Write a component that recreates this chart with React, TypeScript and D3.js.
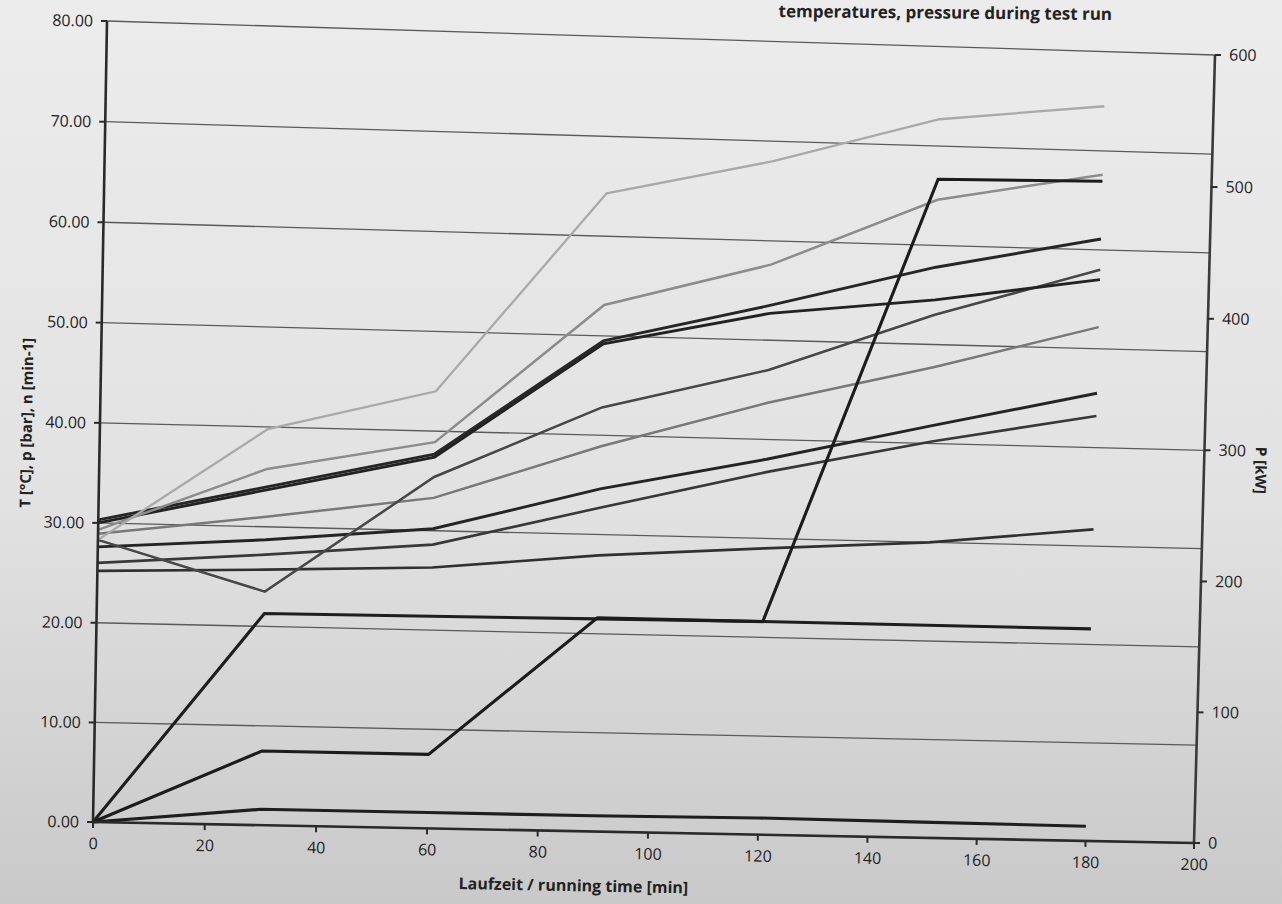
import React from "react";
import * as d3 from "d3";

// ---- data ----
const times = [0, 30, 60, 90, 120, 150, 180];
const seriesA = [28.3, 39.8, 44.0, 64.3, 68.0, 72.7, 74.5];
const seriesB = [29.3, 35.8, 38.9, 53.1, 57.6, 64.6, 67.6];
const seriesC = [30.3, 34.0, 37.7, 49.5, 53.5, 57.8, 61.1];
const seriesD = [28.3, 23.5, 35.4, 42.8, 47.0, 53.0, 58.0];
const seriesE = [30.0, 33.7, 37.4, 49.2, 52.7, 54.5, 57.0];
const seriesF = [28.9, 31.0, 33.3, 38.9, 43.7, 47.7, 52.2];
const seriesG = [27.6, 28.7, 30.2, 34.6, 38.0, 41.8, 45.5];
const seriesH = [26.0, 27.2, 28.6, 32.7, 36.7, 40.2, 43.2];
const seriesI = [25.2, 25.7, 26.3, 27.9, 29.0, 30.0, 31.7];
const pressure1 = [0, 21.3, 21.4, 21.5, 21.6, 21.6, 21.6];
const pressure2 = [0, 1.6, 1.6, 1.6, 1.7, 1.6, 1.5];
const powerKW = [0, 56, 56, 162, 162, 500, 502];

const leftTicks = [0, 10, 20, 30, 40, 50, 60, 70, 80];
const rightTicks = [0, 100, 200, 300, 400, 500, 600];
const xTicks = [0, 20, 40, 60, 80, 100, 120, 140, 160, 180, 200];

const titleText = "temperatures, pressure during test run";
const yTitleLeft = "T [°C], p [bar], n [min-1]";
const yTitleRight = "P [kW]";
const xTitle = "Laufzeit / running time [min]";

const leftSeries = [
  { values: seriesI, color: "#303030", width: 2.7 },
  { values: seriesH, color: "#383838", width: 2.7 },
  { values: seriesG, color: "#242424", width: 2.9 },
  { values: seriesF, color: "#787878", width: 2.5 },
  { values: seriesD, color: "#474747", width: 2.5 },
  { values: seriesE, color: "#222222", width: 2.9 },
  { values: seriesC, color: "#262626", width: 2.9 },
  { values: seriesB, color: "#8c8c8c", width: 2.5 },
  { values: seriesA, color: "#a9a9a9", width: 2.3 },
  { values: pressure1, color: "#1e1e1e", width: 3.1 },
  { values: pressure2, color: "#1e1e1e", width: 3.1 },
];

const W = 1282;
const H = 904;
const FONT = "'Open Sans', 'Liberation Sans', sans-serif";

// plot corners as photographed (bottom-left, bottom-right, top-right, top-left)
const corners = [
  [93, 822],
  [1194, 843],
  [1215, 55],
  [107, 21],
];

function makeProjection(c: number[][]) {
  const [x0, y0] = c[0];
  const [x1, y1] = c[1];
  const [x2, y2] = c[2];
  const [x3, y3] = c[3];
  const dx1 = x1 - x2, dx2 = x3 - x2, dx3 = x0 - x1 + x2 - x3;
  const dy1 = y1 - y2, dy2 = y3 - y2, dy3 = y0 - y1 + y2 - y3;
  const den = dx1 * dy2 - dx2 * dy1;
  const g = (dx3 * dy2 - dx2 * dy3) / den;
  const h = (dx1 * dy3 - dx3 * dy1) / den;
  const a = x1 - x0 + g * x1, b = x3 - x0 + h * x3, cc = x0;
  const d = y1 - y0 + g * y1, e = y3 - y0 + h * y3, f = y0;
  return (u: number, v: number): [number, number] => {
    const w = g * u + h * v + 1;
    return [(a * u + b * v + cc) / w, (d * u + e * v + f) / w];
  };
}

const project = makeProjection(corners);
const ANG = 1.1;

export default function App() {
  const xs = d3.scaleLinear().domain([0, 200]).range([0, 1]);
  const yL = d3.scaleLinear().domain([0, 80]).range([0, 1]);
  const yR = d3.scaleLinear().domain([0, 600]).range([0, 1]);

  const lineL = d3
    .line<number>()
    .x((dv, i) => project(xs(times[i]), yL(dv))[0])
    .y((dv, i) => project(xs(times[i]), yL(dv))[1]);
  const lineR = d3
    .line<number>()
    .x((dv, i) => project(xs(times[i]), yR(dv))[0])
    .y((dv, i) => project(xs(times[i]), yR(dv))[1]);

  const seg = (p: [number, number], q: [number, number]) =>
    `M${p[0]},${p[1]}L${q[0]},${q[1]}`;

  const txt = (
    key: string,
    p: [number, number],
    dx: number,
    dy: number,
    content: string | number,
    anchor: string,
    extra: any = {}
  ) => {
    const px = p[0] + dx;
    const py = p[1] + dy;
    return (
      <text
        key={key}
        x={px}
        y={py}
        transform={`rotate(${ANG}, ${px}, ${py})`}
        textAnchor={anchor}
        fontFamily={FONT}
        fontSize={16}
        fill="#222"
        {...extra}
      >
        {content}
      </text>
    );
  };

  const mid = (yL(0) + yL(80)) / 2;
  const lTitleP = project(0, mid);
  const rTitleP = project(1, mid);
  const xTitleP = project(xs(87), 0);

  return (
    <div style={{ position: "fixed", left: 0, top: 0, width: W, height: H }}>
      <svg width={W} height={H} style={{ display: "block" }}>
        <defs>
          <linearGradient id="bg" x1="0" y1="0" x2="0" y2="1">
            <stop offset="0" stopColor="#ececec" />
            <stop offset="0.55" stopColor="#e2e2e2" />
            <stop offset="1" stopColor="#c9c9c9" />
          </linearGradient>
        </defs>
        <rect x={0} y={0} width={W} height={H} fill="url(#bg)" />

        {/* title */}
        <text
          x={1112}
          y={20}
          transform={`rotate(0.5, 1112, 20)`}
          textAnchor="end"
          fontFamily={FONT}
          fontWeight={700}
          fontSize={17}
          fill="#222"
        >
          {titleText}
        </text>

        {/* gridlines */}
        {leftTicks.map((t) => (
          <path
            key={"g" + t}
            d={seg(project(0, yL(t)), project(1, yL(t)))}
            stroke="#5a5a5a"
            strokeWidth={1.3}
          />
        ))}

        {/* series */}
        {leftSeries.map((s, i) => (
          <path
            key={"s" + i}
            d={lineL(s.values) || ""}
            fill="none"
            stroke={s.color}
            strokeWidth={s.width}
          />
        ))}
        <path d={lineR(powerKW) || ""} fill="none" stroke="#1c1c1c" strokeWidth={3.1} />

        {/* axes */}
        <path d={seg(project(0, 0), project(0, 1))} stroke="#2a2a2a" strokeWidth={2.6} />
        <path d={seg(project(1, 0), project(1, 1))} stroke="#3a3a3a" strokeWidth={2.6} />
        <path d={seg(project(0, 0), project(1, 0))} stroke="#2a2a2a" strokeWidth={2.6} />

        {leftTicks.map((t) => {
          const p = project(0, yL(t));
          return (
            <g key={"lt" + t}>
              <path d={seg([p[0] - 6, p[1]], p)} stroke="#2a2a2a" strokeWidth={2} />
              {txt("ltt" + t, p, -14, 5.5, d3.format(".2f")(t), "end")}
            </g>
          );
        })}
        {rightTicks.map((t) => {
          const p = project(1, yR(t));
          return (
            <g key={"rt" + t}>
              <path d={seg(p, [p[0] + 6, p[1]])} stroke="#2a2a2a" strokeWidth={2} />
              {txt("rtt" + t, p, 14, 5.5, t, "start")}
            </g>
          );
        })}
        {xTicks.map((t) => {
          const p = project(xs(t), 0);
          return (
            <g key={"xt" + t}>
              <path d={seg(p, [p[0], p[1] + 6])} stroke="#2a2a2a" strokeWidth={2} />
              {txt("xtt" + t, p, 0, 27, t, "middle")}
            </g>
          );
        })}

        {txt("xtitle", xTitleP, -3, 60, xTitle, "middle", { fontWeight: 700 })}

        <text
          transform={`translate(${lTitleP[0] - 68}, ${lTitleP[1]}) rotate(${-90 + ANG})`}
          textAnchor="middle"
          fontFamily={FONT}
          fontWeight={700}
          fontSize={15}
          fill="#222"
        >
          {yTitleLeft}
        </text>
        <text
          transform={`translate(${rTitleP[0] + 51}, ${rTitleP[1] + 20}) rotate(${90 + ANG})`}
          textAnchor="middle"
          fontFamily={FONT}
          fontWeight={700}
          fontSize={15}
          fill="#222"
        >
          {yTitleRight}
        </text>
      </svg>
    </div>
  );
}
